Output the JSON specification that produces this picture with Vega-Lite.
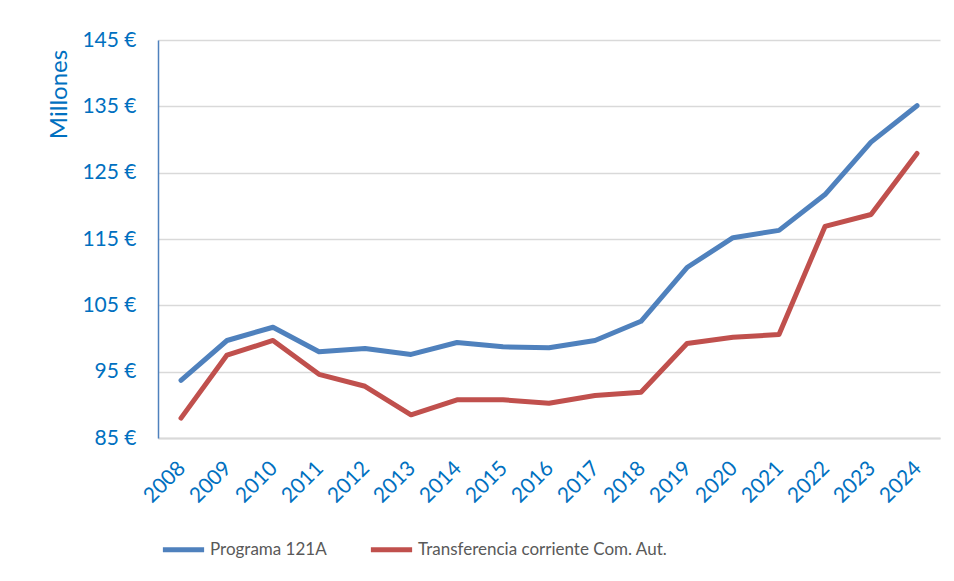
{
  "$schema": "https://vega.github.io/schema/vega-lite/v6.json",
  "width": 782,
  "height": 398,
  "autosize": {"type": "none"},
  "padding": {"left": 158, "top": 40, "right": 14, "bottom": 143},
  "background": "white",
  "config": {
    "font": "Lato",
    "view": {"stroke": null},
    "axis": {"labelFont": "Lato", "titleFont": "Lato"},
    "legend": {"labelFont": "Lato"}
  },
  "data": {
    "values": [
      {"year": "2008", "serie": "Programa 121A", "value": 93.7},
      {"year": "2009", "serie": "Programa 121A", "value": 99.7},
      {"year": "2010", "serie": "Programa 121A", "value": 101.7},
      {"year": "2011", "serie": "Programa 121A", "value": 98.0},
      {"year": "2012", "serie": "Programa 121A", "value": 98.5},
      {"year": "2013", "serie": "Programa 121A", "value": 97.6},
      {"year": "2014", "serie": "Programa 121A", "value": 99.4},
      {"year": "2015", "serie": "Programa 121A", "value": 98.75},
      {"year": "2016", "serie": "Programa 121A", "value": 98.6},
      {"year": "2017", "serie": "Programa 121A", "value": 99.7},
      {"year": "2018", "serie": "Programa 121A", "value": 102.6},
      {"year": "2019", "serie": "Programa 121A", "value": 110.7},
      {"year": "2020", "serie": "Programa 121A", "value": 115.2},
      {"year": "2021", "serie": "Programa 121A", "value": 116.3},
      {"year": "2022", "serie": "Programa 121A", "value": 121.7},
      {"year": "2023", "serie": "Programa 121A", "value": 129.6},
      {"year": "2024", "serie": "Programa 121A", "value": 135.1},
      {"year": "2008", "serie": "Transferencia corriente Com. Aut.", "value": 88.0},
      {"year": "2009", "serie": "Transferencia corriente Com. Aut.", "value": 97.5},
      {"year": "2010", "serie": "Transferencia corriente Com. Aut.", "value": 99.7},
      {"year": "2011", "serie": "Transferencia corriente Com. Aut.", "value": 94.6},
      {"year": "2012", "serie": "Transferencia corriente Com. Aut.", "value": 92.8},
      {"year": "2013", "serie": "Transferencia corriente Com. Aut.", "value": 88.5},
      {"year": "2014", "serie": "Transferencia corriente Com. Aut.", "value": 90.75},
      {"year": "2015", "serie": "Transferencia corriente Com. Aut.", "value": 90.75},
      {"year": "2016", "serie": "Transferencia corriente Com. Aut.", "value": 90.25},
      {"year": "2017", "serie": "Transferencia corriente Com. Aut.", "value": 91.4},
      {"year": "2018", "serie": "Transferencia corriente Com. Aut.", "value": 91.9},
      {"year": "2019", "serie": "Transferencia corriente Com. Aut.", "value": 99.25},
      {"year": "2020", "serie": "Transferencia corriente Com. Aut.", "value": 100.2},
      {"year": "2021", "serie": "Transferencia corriente Com. Aut.", "value": 100.6},
      {"year": "2022", "serie": "Transferencia corriente Com. Aut.", "value": 116.9},
      {"year": "2023", "serie": "Transferencia corriente Com. Aut.", "value": 118.7},
      {"year": "2024", "serie": "Transferencia corriente Com. Aut.", "value": 127.9}
    ]
  },
  "mark": {"type": "line", "strokeWidth": 5, "strokeCap": "round", "strokeJoin": "round"},
  "encoding": {
    "x": {
      "field": "year",
      "type": "ordinal",
      "scale": {"type": "point", "padding": 0.5},
      "axis": {
        "title": null,
        "labelAngle": -45,
        "labelFontSize": 21,
        "labelColor": "#0070C0",
        "labelPadding": 19,
        "labelOffset": -7,
        "ticks": false,
        "grid": false,
        "domainColor": "#D9D9D9",
        "domainWidth": 2
      }
    },
    "y": {
      "field": "value",
      "type": "quantitative",
      "scale": {"domain": [85, 145], "nice": false, "zero": false},
      "axis": {
        "title": "Millones",
        "titleColor": "#0070C0",
        "titleFontSize": 24,
        "titleFontWeight": "normal",
        "titleAngle": -90,
        "titleX": -99,
        "titleY": 54,
        "titleAlign": "center",
        "titleBaseline": "middle",
        "values": [85, 95, 105, 115, 125, 135, 145],
        "labelExpr": "datum.value + ' €'",
        "labelFontSize": 21,
        "labelColor": "#0070C0",
        "labelPadding": 22,
        "ticks": false,
        "domainColor": "#4F81BD",
        "domainWidth": 1.5,
        "gridColor": "#D9D9D9",
        "gridWidth": 1.5
      }
    },
    "color": {
      "field": "serie",
      "type": "nominal",
      "scale": {
        "domain": ["Programa 121A", "Transferencia corriente Com. Aut."],
        "range": ["#4F81BD", "#C0504D"]
      },
      "legend": {
        "title": null,
        "orient": "none",
        "direction": "horizontal",
        "legendX": 2,
        "legendY": 486,
        "symbolType": "stroke",
        "symbolSize": 1700,
        "symbolStrokeWidth": 5,
        "labelFontSize": 17,
        "labelColor": "#595959",
        "labelOffset": 3,
        "labelLimit": 500,
        "columnPadding": 33
      }
    }
  }
}
